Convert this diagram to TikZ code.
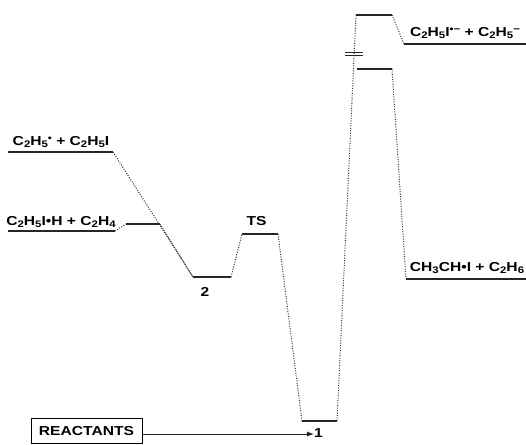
\documentclass[tikz,border=0pt]{standalone}
\usepackage{fontspec}
\setmainfont{Liberation Sans}
\usetikzlibrary{arrows.meta}
% small lowered / raised characters for formulas
\newcommand\dn[1]{\raisebox{-0.4ex}{\fontsize{9.5}{9.5}\selectfont #1}}
\newcommand\up[1]{\raisebox{0.55ex}{\fontsize{9.5}{9.5}\selectfont #1}}
\newcommand\wide[1]{\scalebox{1.2}[1]{#1}}
\begin{document}
\begin{tikzpicture}[x=1pt,y=-1pt,
  level/.style={line width=1.3pt, draw=black!85},
  conn/.style={line width=1pt, draw=black!80, dash pattern=on 1pt off 1.5pt},
  lab/.style={font=\fontsize{13}{13}\selectfont\bfseries, inner sep=0pt},
  brk/.style={line width=1pt, draw=black!85}]
\useasboundingbox (0,0) rectangle (526,444);

% energy levels
\coordinate (aL) at (8,152);   \coordinate (aR) at (113,152);
\coordinate (bL) at (8,231);   \coordinate (bR) at (115,231);
\coordinate (cL) at (126,224); \coordinate (cR) at (160,224);
\coordinate (w2L) at (193,277); \coordinate (w2R) at (231,277);
\coordinate (tsL) at (242,234); \coordinate (tsR) at (278,234);
\coordinate (w1L) at (302,421); \coordinate (w1R) at (337,421);
\coordinate (topL) at (356,15); \coordinate (topR) at (392,15);
\coordinate (midL) at (357,69); \coordinate (midR) at (392,69);
\coordinate (p1L) at (404,44);  \coordinate (p1R) at (526,44);
\coordinate (p2L) at (406,279); \coordinate (p2R) at (526,279);

\foreach \s in {a,b,c,w2,ts,w1,top,mid,p1,p2}
  \draw[level] (\s L) -- (\s R);

% connectors between levels
\draw[conn] (bR) -- (cL);
\draw[conn] (aR) -- (w2L);
\draw[conn] (cR) -- (w2L);
\draw[conn] (w2R) -- (tsL);
\draw[conn] (tsR) -- (w1L);
\draw[conn] (w1R) -- (topL);
\draw[conn] (topR) -- (p1L);
\draw[conn] (midR) -- (p2L);

% axis break on the tall rise
\coordinate (k1L) at (345,52); \coordinate (k1R) at (363,52);
\coordinate (k2L) at (345,55.5); \coordinate (k2R) at (363,55.5);
\draw[brk] (k1L) -- (k1R);
\draw[brk] (k2L) -- (k2R);

% labels
\node[lab] (la) at (61,142) {\wide{C\dn{2}H\dn{5}\up{•} + C\dn{2}H\dn{5}I}};
\node[lab] (lb) at (61,222) {\wide{C\dn{2}H\dn{5}I•H + C\dn{2}H\dn{4}}};
\node[lab] (l2) at (205,292) {\wide{2}};
\node[lab] (lts) at (256.5,221) {\wide{TS}};
\node[lab] (lp1) at (465,33) {\wide{C\dn{2}H\dn{5}I\up{•−} + C\dn{2}H\dn{5}\up{−}}};
\node[lab] (lp2) at (467,268) {\wide{CH\dn{3}CH•I + C\dn{2}H\dn{6}}};

% reactants box and arrow to well 1
\node[lab, draw=black, line width=1pt, minimum width=111pt, minimum height=25pt]
  (react) at (86.5,431) {\wide{REACTANTS}};
\node[lab] (l1) at (318.5,433) {\wide{1}};
\draw[line width=0.8pt, black!85, -{Latex[length=7pt,width=5pt]}]
  (react.east |- 0,434) -- (l1.west |- 0,434);
\end{tikzpicture}
\end{document}
